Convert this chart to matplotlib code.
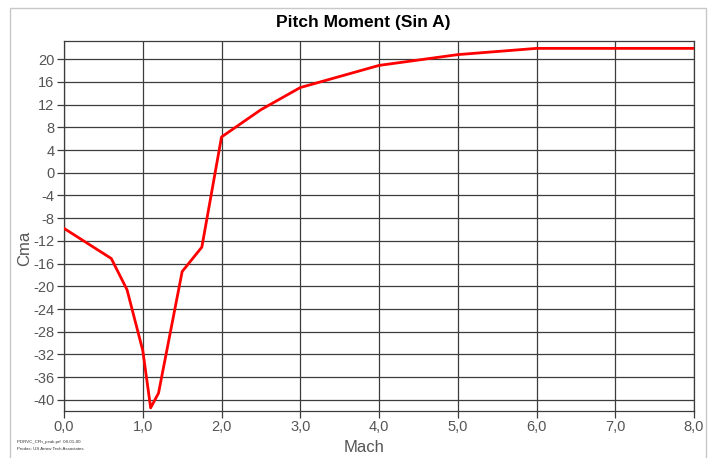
import numpy as np
import matplotlib
matplotlib.use("Agg")
from matplotlib import pyplot as plt
from matplotlib.patches import Rectangle
from matplotlib.ticker import FuncFormatter

# Cma vs Mach
mach = [0.0, 0.6, 0.8, 1.0, 1.1, 1.2, 1.5, 1.75, 2.0, 2.5, 3.0, 4.0, 5.0, 6.0, 8.0]
cma = [-9.8, -15.1, -20.6, -31.3, -41.4, -38.8, -17.4, -13.1, 6.3, 11.1, 15.0, 18.9, 20.8, 21.9, 21.9]

x_ticks = np.arange(0, 9, 1)
y_ticks = np.arange(-40, 21, 4)

title = "Pitch Moment (Sin A)"
x_label = "Mach"
y_label = "Cma"
footer = ["PDRVC_CFh_peak.prf  08-01-00", "Prodas: US Arrow Tech Associates"]

plt.rcParams['font.family'] = ['Liberation Sans', 'DejaVu Sans']

fig = plt.figure(figsize = (7.09, 4.58), dpi = 100)
ax = fig.add_axes([0.0903, 0.1033, 0.8886, 0.8072])

# outer frame of the exported picture
fig.patches.append(Rectangle((0.014, -0.05), 0.982, 1.032, transform = fig.transFigure,
                             fill = False, edgecolor = '#c8c8c8', linewidth = 1.0))

ax.plot(mach, cma, color = '#ff0000', linewidth = 2.0, zorder = 3)

ax.set_xlim(0, 8)
ax.set_ylim(-41.9, 23.2)
ax.set_xticks(x_ticks)
ax.set_yticks(y_ticks)
ax.xaxis.set_major_formatter(FuncFormatter(lambda v, p: ('%.1f' % v).replace('.', ',')))
ax.yaxis.set_major_formatter(FuncFormatter(lambda v, p: '%d' % v))
ax.grid(True, color = '#3c3c3c', linewidth = 0.9)
ax.tick_params(direction = 'out', length = 5, width = 0.9, color = '#3c3c3c',
               labelcolor = '#555555', labelsize = 10.5, pad = 2)
for s in ax.spines.values():
    s.set_color('#3c3c3c')
    s.set_linewidth(0.9)

ax.set_xlabel(x_label, fontsize = 12, color = '#555555')
ax.set_ylabel(y_label, fontsize = 12, color = '#555555')
ax.xaxis.set_label_coords(0.477, -0.08)
ax.yaxis.set_label_coords(-0.05, 0.44)
fig.text(0.512, 0.951, title, ha = 'center', va = 'center', fontsize = 12.5,
         fontweight = 'bold', family = ['Liberation Sans Narrow', 'Liberation Sans'])

fig.text(0.024, 0.033, footer[0], fontsize = 3.2, color = '#333333')
fig.text(0.024, 0.018, footer[1], fontsize = 3.2, color = '#333333')

fig.savefig('out.png', dpi = 100)
